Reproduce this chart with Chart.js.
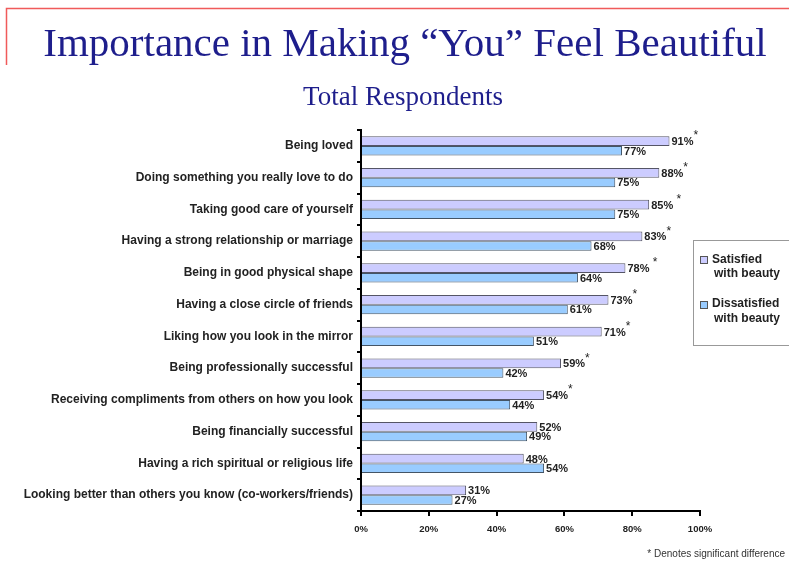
<!DOCTYPE html>
<html>
<head>
<meta charset="utf-8">
<script src="https://cdn.jsdelivr.net/npm/chart.js@4.4.0/dist/chart.umd.min.js"></script>
<style>
  html, body { margin: 0; padding: 0; background: #fff; }
  #wrap { width: 789px; height: 562px; position: relative; }
</style>
</head>
<body>
<div id="wrap"><canvas id="chart"></canvas></div>
<script>
const categories = [
  'Being loved',
  'Doing something you really love to do',
  'Taking good care of yourself',
  'Having a strong relationship or marriage',
  'Being in good physical shape',
  'Having a close circle of friends',
  'Liking how you look in the mirror',
  'Being professionally successful',
  'Receiving compliments from others on how you look',
  'Being financially successful',
  'Having a rich spiritual or religious life',
  'Looking better than others you know (co-workers/friends)'
];
const satisfied = [91, 88, 85, 83, 78, 73, 71, 59, 54, 52, 48, 31];
const dissatisfied = [77, 75, 75, 68, 64, 61, 51, 42, 44, 49, 54, 27];
// significance marks next to the "satisfied" values
const starMarks = ['*', '*', ' *', '*', ' *', '*', '*', '*', '*', '', '', ''];
const seriesNames = [['Satisfied', 'with beauty'], ['Dissatisfied', 'with beauty']];
const seriesColors = ['#ccccff', '#99ccff'];

const titleText = 'Importance in Making \u201cYou\u201d Feel Beautiful';
const subtitleText = 'Total Respondents';
const footnoteText = '* Denotes significant difference';

const sansFont = '"Liberation Sans", Arial, sans-serif';
const serifFont = '"Liberation Serif", "Times New Roman", serif';

// red frame corner, titles, legend box and footnote
const decorPlugin = {
  id: 'decor',
  beforeDraw(chart) {
    const ctx = chart.ctx;
    ctx.save();
    ctx.fillStyle = '#fff';
    ctx.fillRect(0, 0, chart.width, chart.height);
    ctx.strokeStyle = '#f05a5a';
    ctx.lineWidth = 1.5;
    ctx.beginPath();
    ctx.moveTo(6.5, 65);
    ctx.lineTo(6.5, 8.5);
    ctx.lineTo(chart.width, 8.5);
    ctx.stroke();

    ctx.fillStyle = '#1e1e8c';
    ctx.textAlign = 'center';
    ctx.textBaseline = 'alphabetic';
    ctx.font = '41px ' + serifFont;
    ctx.fillText(titleText, 405, 56);
    ctx.font = '27px ' + serifFont;
    ctx.fillText(subtitleText, 403, 105);
    ctx.restore();
  },
  afterDraw(chart) {
    const ctx = chart.ctx;
    ctx.save();
    // legend
    ctx.strokeStyle = '#999';
    ctx.lineWidth = 1;
    ctx.strokeRect(693.5, 240.5, 140, 105);
    const rows = [{ box: 256, lines: [263, 277] }, { box: 301, lines: [307, 322] }];
    rows.forEach((r, i) => {
      ctx.fillStyle = seriesColors[i];
      ctx.fillRect(700.5, r.box + 0.5, 7, 7);
      ctx.strokeStyle = '#555';
      ctx.strokeRect(700.5, r.box + 0.5, 7, 7);
      ctx.fillStyle = '#222';
      ctx.font = 'bold 12px ' + sansFont;
      ctx.textAlign = 'left';
      ctx.fillText(seriesNames[i][0], 712, r.lines[0]);
      ctx.fillText(seriesNames[i][1], 714, r.lines[1]);
    });
    // footnote
    ctx.fillStyle = '#333';
    ctx.font = '10px ' + sansFont;
    ctx.textAlign = 'right';
    ctx.fillText(footnoteText, 785, 557);
    ctx.restore();
  }
};

// percentage labels at the end of each bar
const valueLabels = {
  id: 'valueLabels',
  afterDatasetsDraw(chart) {
    const ctx = chart.ctx;
    ctx.save();
    ctx.fillStyle = '#222';
    ctx.textBaseline = 'middle';
    ctx.textAlign = 'left';
    chart.data.datasets.forEach((ds, di) => {
      const meta = chart.getDatasetMeta(di);
      meta.data.forEach((bar, i) => {
        const txt = ds.data[i] + '%';
        ctx.font = 'bold 11px ' + sansFont;
        const x = bar.x + 2;
        const y = bar.y + 1;
        ctx.fillText(txt, x, y);
        if (di === 0 && starMarks[i]) {
          const w = ctx.measureText(txt).width;
          ctx.font = '12px ' + sansFont;
          ctx.fillText(starMarks[i], x + w, y - 6);
        }
      });
    });
    ctx.restore();
  }
};

new Chart(document.getElementById('chart'), {
  type: 'bar',
  data: {
    labels: categories,
    datasets: [
      {
        label: 'Satisfied with beauty',
        data: satisfied,
        backgroundColor: seriesColors[0],
        borderColor: '#555566',
        borderWidth: 1,
        borderSkipped: 'start',
        categoryPercentage: 0.6,
        barPercentage: 1.0
      },
      {
        label: 'Dissatisfied with beauty',
        data: dissatisfied,
        backgroundColor: seriesColors[1],
        borderColor: '#445566',
        borderWidth: 1,
        borderSkipped: 'start',
        categoryPercentage: 0.6,
        barPercentage: 1.0
      }
    ]
  },
  options: {
    indexAxis: 'y',
    responsive: true,
    maintainAspectRatio: false,
    animation: false,
    devicePixelRatio: 1,
    layout: { padding: { top: 130, right: 89, bottom: 21, left: 0 } },
    plugins: {
      legend: { display: false },
      title: { display: false },
      tooltip: { enabled: false }
    },
    scales: {
      x: {
        min: 0,
        max: 100,
        afterFit(scale) { scale.height = 30; },
        ticks: {
          stepSize: 20,
          padding: 8,
          color: '#222',
          font: { family: sansFont, size: 9.5, weight: 'bold' },
          callback: v => v + '%'
        },
        grid: { drawOnChartArea: false, drawTicks: true, tickLength: 5, color: '#000', lineWidth: 2 },
        border: { color: '#000', width: 2 }
      },
      y: {
        afterFit(scale) { scale.width = 361; },
        ticks: {
          padding: 4,
          color: '#222',
          font: { family: sansFont, size: 12, weight: 'bold' }
        },
        grid: { drawOnChartArea: false, drawTicks: true, tickLength: 4, color: '#000', lineWidth: 2 },
        border: { color: '#000', width: 2 }
      }
    }
  },
  plugins: [decorPlugin, valueLabels]
});
</script>
</body>
</html>
